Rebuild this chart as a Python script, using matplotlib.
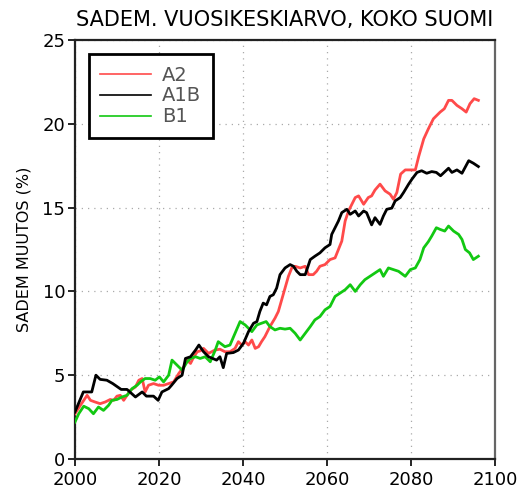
import matplotlib
matplotlib.use("Agg")
import matplotlib.pyplot as plt
from matplotlib.lines import Line2D

# A2 (punainen)
a2_year = [2000, 2001.3, 2002.9, 2003.7, 2004.8, 2006, 2007.2, 2008.4, 2009.2, 2010,
           2010.8, 2011.6, 2012.4, 2013.2, 2014.4, 2015.2, 2016, 2016.7, 2017.5, 2018.7,
           2019.9, 2021.1, 2022.3, 2023.5, 2024.7, 2025.9, 2026.7, 2027.5, 2028.3, 2029.1,
           2029.8, 2030.6, 2031.8, 2033.3, 2034.5, 2035.7, 2036.9, 2038.1, 2038.9, 2039.7,
           2040.5, 2041.3, 2042.1, 2042.9, 2043.7, 2044.4, 2045.2, 2046.4, 2047.6, 2048.4,
           2049.2, 2050, 2050.8, 2051.6, 2052.4, 2053.6, 2054.8, 2055.6, 2056.7, 2057.5,
           2058.3, 2059.5, 2060.7, 2061.9, 2062.7, 2063.5, 2064.3, 2065.1, 2065.9, 2066.7,
           2067.5, 2068.7, 2069.8, 2070.6, 2071.4, 2072.6, 2073.8, 2075, 2075.8, 2076.6,
           2077.5, 2078.6, 2079.8, 2081, 2081.8, 2083, 2084.1, 2085.3, 2086.9, 2087.9,
           2088.9, 2089.7, 2090.9, 2092.1, 2093.1, 2094, 2095, 2096]
a2_val = [2.7, 3.2, 3.8, 3.5, 3.4, 3.3, 3.4, 3.55, 3.5, 3.75,
          3.8, 3.5, 3.8, 4.1, 4.3, 4.7, 4.8, 4.0, 4.4, 4.5,
          4.4, 4.4, 4.5, 4.6, 5.1, 5.5, 5.9, 5.7, 6.1, 6.4,
          6.45, 6.6, 6.3, 6.5, 6.55, 6.4, 6.4, 6.6, 7.0, 6.8,
          7.0, 6.8, 7.1, 6.6, 6.7, 7.0, 7.3, 7.9, 8.4, 8.8,
          9.5, 10.2, 10.9, 11.4, 11.5, 11.4, 11.5, 11.0, 11.0, 11.2,
          11.5, 11.6, 11.9, 12.0, 12.5, 13.0, 14.2, 14.8, 15.2, 15.6,
          15.7, 15.2, 15.6, 15.7, 16.05, 16.4, 16.0, 15.8, 15.5, 15.9,
          17.0, 17.25, 17.25, 17.25, 18.05, 19.1, 19.7, 20.3, 20.7, 20.9,
          21.4, 21.4, 21.1, 20.9, 20.7, 21.2, 21.5, 21.4]

# A1B (musta)
a1b_year = [2000, 2002, 2003, 2004, 2005, 2006, 2007.6, 2009, 2011, 2012.4,
            2014.4, 2016, 2017, 2018.7, 2019.8, 2020.7, 2022.3, 2023, 2024.3, 2025.5,
            2026.3, 2027.5, 2028.7, 2029.5, 2030.6, 2031.8, 2033.7, 2034.5, 2035.3, 2036.1,
            2037.7, 2038.9, 2040.1, 2041.3, 2042.5, 2043.3, 2044, 2044.8, 2045.6, 2046.4,
            2047.2, 2048, 2048.8, 2050, 2051.2, 2052, 2052.8, 2053.6, 2054.8, 2056,
            2057.1, 2058.3, 2059.5, 2060.7, 2061.1, 2061.9, 2062.7, 2063.5, 2064.7, 2065.5,
            2066.7, 2067.5, 2068.7, 2069.4, 2070.6, 2071.4, 2072.6, 2073.4, 2074.2, 2075.4,
            2076.2, 2077.4, 2078.2, 2079.4, 2080.2, 2081.4, 2082.5, 2083.7, 2084.9, 2086,
            2087, 2088.9, 2089.7, 2090.9, 2092.1, 2093.7, 2094.8, 2096]
a1b_val = [2.8, 4.0, 4.0, 4.0, 5.0, 4.75, 4.7, 4.5, 4.15, 4.15,
           3.7, 4.0, 3.75, 3.75, 3.5, 4.0, 4.2, 4.4, 4.8, 5.0,
           6.0, 6.1, 6.5, 6.8, 6.4, 6.1, 5.9, 6.1, 5.45, 6.3,
           6.35, 6.5, 6.9, 7.6, 8.1, 8.2, 8.8, 9.3, 9.2, 9.7,
           9.8, 10.2, 11.0, 11.4, 11.6, 11.5, 11.2, 11.0, 11.0, 11.9,
           12.1, 12.3, 12.6, 12.8, 13.4, 13.8, 14.2, 14.7, 14.9, 14.6,
           14.8, 14.5, 14.8, 14.7, 13.97, 14.4, 14.0, 14.5, 14.9, 14.97,
           15.4, 15.6, 15.9, 16.4, 16.7, 17.1, 17.2, 17.05, 17.15, 17.1,
           16.9, 17.35, 17.1, 17.25, 17.05, 17.8, 17.65, 17.45]

# B1 (vihrea)
b1_year = [2000, 2000.9, 2002.1, 2003.3, 2004.4, 2005.6, 2006.8, 2008, 2008.8, 2010,
           2011.2, 2012.4, 2013.6, 2014.8, 2015.6, 2016.7, 2017.9, 2019.1, 2020.1, 2021.1,
           2022.3, 2023.1, 2024.3, 2025.5, 2026.7, 2027.5, 2028.7, 2029.8, 2031, 2032.2,
           2033.4, 2034.1, 2035.7, 2036.9, 2038.1, 2039.3, 2040.5, 2042.1, 2043.3, 2044.4,
           2045.5, 2046.4, 2047.6, 2048.8, 2050, 2051.2, 2052.4, 2053.6, 2054.8, 2056,
           2057.1, 2058.3, 2059.5, 2060.7, 2061.9, 2063.1, 2064.3, 2065.5, 2066.7, 2067.9,
           2069, 2070.2, 2071.4, 2072.6, 2073.4, 2074.6, 2075.8, 2077, 2078.6, 2079.8,
           2081, 2082.1, 2083, 2084.1, 2084.9, 2086, 2086.9, 2088, 2088.9, 2090.1,
           2091.3, 2092.1, 2092.9, 2093.9, 2094.8, 2096]
b1_val = [2.2, 2.7, 3.15, 3.0, 2.7, 3.1, 2.9, 3.2, 3.5, 3.55,
          3.7, 3.8, 4.2, 4.4, 4.6, 4.8, 4.8, 4.7, 4.9, 4.6,
          5.0, 5.9, 5.6, 5.3, 5.8, 6.0, 6.1, 6.0, 6.1, 5.8,
          6.5, 7.0, 6.7, 6.8, 7.5, 8.2, 8.0, 7.6, 8.0, 8.1,
          8.2, 7.9, 7.7, 7.8, 7.75, 7.8, 7.5, 7.1, 7.5, 7.9,
          8.3, 8.5, 8.9, 9.1, 9.7, 9.9, 10.1, 10.4, 10.0, 10.4,
          10.7, 10.9, 11.1, 11.3, 10.9, 11.4, 11.3, 11.2, 10.9, 11.3,
          11.4, 11.9, 12.6, 12.97, 13.3, 13.8, 13.7, 13.6, 13.9, 13.6,
          13.4, 13.1, 12.5, 12.3, 11.9, 12.1]

labels = ["A2", "A1B", "B1"]
colors = ["#ff4a4a", "black", "#12c812"]

fig = plt.figure(figsize=(5.24, 4.9), dpi=100)
ax = fig.add_axes([0.143, 0.0633, 0.802, 0.855])

ax.plot(a2_year, a2_val, color=colors[0], lw=2.0, zorder=3)
ax.plot(b1_year, b1_val, color=colors[2], lw=2.0, zorder=3)
ax.plot(a1b_year, a1b_val, color=colors[1], lw=2.0, zorder=4)

ax.set_xlim(2000, 2100)
ax.set_ylim(0, 25)
ax.set_xticks(range(2000, 2101, 20))
ax.set_yticks(range(0, 26, 5))
ax.grid(True, color="#aaaaaa", ls=(0, (1, 4)), lw=0.9)
ax.tick_params(direction="out", length=5, width=1.2, labelsize=13,
               top=False, right=False)
ax.tick_params(axis="x", pad=4)
ax.tick_params(axis="y", pad=2)
for s in ax.spines.values():
    s.set_linewidth(1.6)
    s.set_color("#222222")
ax.spines["right"].set_color("#666666")

ax.set_title("SADEM. VUOSIKESKIARVO, KOKO SUOMI", fontsize=15, pad=10)
ax.set_ylabel("SADEM MUUTOS (%)", fontsize=11.5, labelpad=8)

handles = [Line2D([], [], color=c, lw=1.2) for c in colors]
leg = ax.legend(handles, labels, loc="upper left", bbox_to_anchor=(0.033, 0.967),
                fontsize=14, frameon=True, fancybox=False, framealpha=1,
                handlelength=2.6, handletextpad=0.55, labelspacing=0.1,
                borderpad=0.6, borderaxespad=0)
leg.get_frame().set_edgecolor("black")
leg.get_frame().set_linewidth(2)
for t in leg.get_texts():
    t.set_color("#555555")

fig.savefig("out.png", dpi=100)
